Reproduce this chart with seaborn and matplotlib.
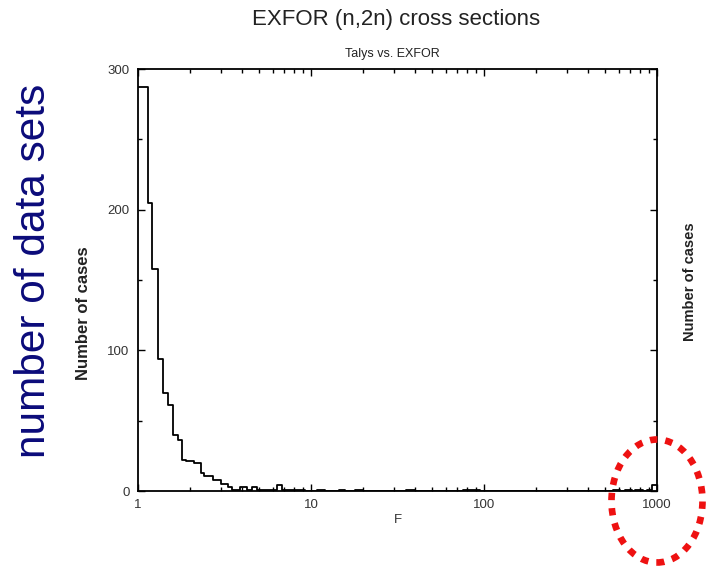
import numpy as np
import pandas as pd
import seaborn as sns
import matplotlib.pyplot as plt
from matplotlib.patches import Ellipse
from matplotlib.ticker import MultipleLocator, LogLocator, NullFormatter

# histogram of F = Talys / EXFOR, bin edges and counts
bin_edges = [1.0, 1.14, 1.2, 1.3, 1.4, 1.5, 1.6, 1.7, 1.8, 1.9, 2.0,
             2.1, 2.3, 2.4, 2.7, 3.0, 3.3, 3.5,
             3.9, 4.27, 4.55, 4.9, 6.36, 6.8, 7.07,
             9.23, 10.8, 12.0, 14.5, 15.7, 17.9, 20.0,
             35.4, 40.0, 75.6, 94.8,
             557, 612, 650, 717, 748, 825, 870, 937, 1000]
counts = [287, 205, 158, 94, 70, 61, 40, 36,
          22, 21, 21,
          20, 13, 11, 8, 5, 3,
          1, 3, 1, 3, 1, 4, 1,
          1, 0, 1, 0, 1, 0, 1,
          0, 1, 0, 1,
          0, 1, 0, 1, 0, 1, 0, 1, 4]

x_ticks = [1, 10, 100, 1000]
x_tick_labels = ['1', '10', '100', '1000']
y_ticks = [0, 100, 200, 300]

title = 'EXFOR (n,2n) cross sections'
subtitle = 'Talys vs. EXFOR'

sns.set_style('ticks')
plt.rcParams['font.family'] = ['Liberation Sans', 'DejaVu Sans']

W, H = 706, 569
fig = plt.figure(figsize=(W / 100, H / 100), dpi=100)
ax = fig.add_axes([138 / W, 1 - 491 / H, (657 - 138) / W, (491 - 69) / H])

edges = np.array(bin_edges)
df = pd.DataFrame({'F': (edges[:-1] + edges[1:]) / 2, 'n': counts})
sns.histplot(data=df, x='F', weights='n', bins=bin_edges, element='step',
             fill=False, color='black', linewidth=1.3, ax=ax)

ax.set_xscale('log')
ax.set_xlim(1, 1000)
ax.set_ylim(0, 300)
ax.set_xticks(x_ticks)
ax.set_xticklabels(x_tick_labels)
ax.xaxis.set_minor_locator(LogLocator(base=10, subs=range(2, 10)))
ax.xaxis.set_minor_formatter(NullFormatter())
ax.set_yticks(y_ticks)
ax.yaxis.set_minor_locator(MultipleLocator(50))

ax.tick_params(which='both', direction='in', top=True, right=True,
               color='black', labelcolor='#333333', labelsize=9.5, width=1)
ax.tick_params(which='major', length=5, pad=6)
ax.tick_params(which='minor', length=3)
for s in ax.spines.values():
    s.set_linewidth(1.3)
    s.set_color('black')

ax.set_xlabel('F', fontsize=9.5, color='#333333', labelpad=2)
ax.set_ylabel('')

fig.text(396 / W, 1 - 25 / H, title, ha='center', va='baseline',
         fontsize=16, color='#222222')
fig.text(392 / W, 1 - 57 / H, subtitle, ha='center', va='baseline',
         fontsize=9, color='#222222')

fig.text(83 / W, 1 - 313 / H, 'Number of cases', rotation=90, ha='center',
         va='center', fontsize=12, fontweight='bold', color='#222222')
fig.text(690 / W, 1 - 282 / H, 'Number of cases', rotation=90, ha='center',
         va='center', fontsize=10.5, fontweight='bold', color='#222222')

fig.text(34 / W, 1 - 271 / H, 'number of data sets', rotation=90,
         ha='center', va='center', fontsize=30.5, color='#0b0b7a')

ell = Ellipse((657 / W, 1 - 501 / H), 91 / W, 123 / H, transform=fig.transFigure,
              fill=False, edgecolor='#ee1111', linewidth=4.8,
              linestyle=(0, (1.1, 1.2)), zorder=10)
fig.add_artist(ell)

fig.savefig('out.png', dpi=100)
